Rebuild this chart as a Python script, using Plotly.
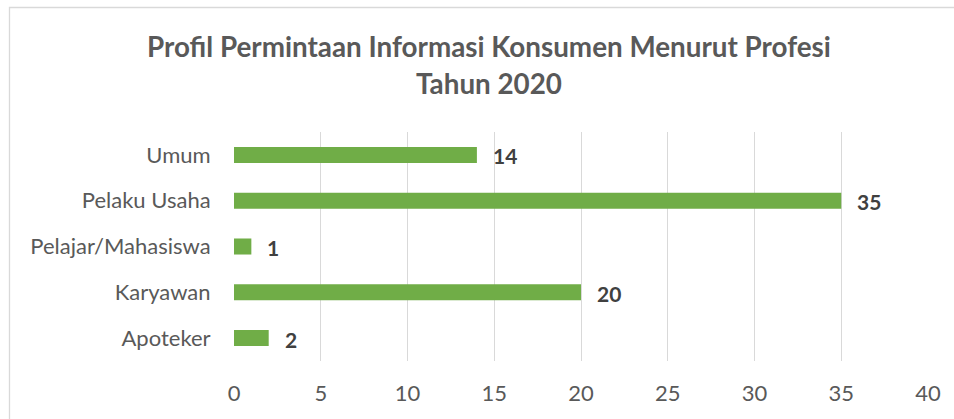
import plotly.graph_objects as go

categories = ["Apoteker", "Karyawan", "Pelajar/Mahasiswa", "Pelaku Usaha", "Umum"]
values = [2, 20, 1, 35, 14]
x_ticks = [0, 5, 10, 15, 20, 25, 30, 35, 40]
title_lines = ["Profil Permintaan Informasi Konsumen Menurut Profesi", "Tahun 2020"]

W, H = 954, 419
L, R, T, B = 234, 26, 132, 58
pw, ph = W - L - R, H - T - B

FONT = "Lato"

fig = go.Figure()
fig.add_trace(go.Bar(
    x=values, y=categories, orientation="h",
    marker=dict(color="#70AD47", line=dict(width=0)),
    hoverinfo="skip",
))

fig.update_layout(
    width=W, height=H,
    margin=dict(l=L, r=R, t=T, b=B, autoexpand=False),
    paper_bgcolor="white", plot_bgcolor="white",
    bargap=0.65,
    showlegend=False,
    font=dict(family=FONT, color="#595959", size=22),
)
fig.update_xaxes(
    range=[0, 40], tickvals=x_ticks, showgrid=True, gridcolor="#D9D9D9", gridwidth=1.3,
    zeroline=False, showline=False, ticks="outside", ticklen=13, tickcolor="rgba(0,0,0,0)",
    tickfont=dict(family=FONT, size=22, color="#595959"),
)
fig.update_yaxes(
    categoryorder="array", categoryarray=categories,
    showgrid=False, zeroline=False, showline=False,
    ticks="outside", ticklen=18, tickcolor="rgba(0,0,0,0)",
    tickfont=dict(family=FONT, size=22, color="#595959"),
)

for c, v in zip(categories, values):
    fig.add_annotation(x=v, y=c, text=f"<b>{v}</b>", showarrow=False,
                       xanchor="left", xshift=14, yshift=-1,
                       font=dict(family=FONT, size=21, color="#404040"))

def px_x(p):
    return (p - L) / pw

def px_y(p):
    return (H - B - p) / ph

fig.add_annotation(x=px_x(489), y=px_y(47), xref="paper", yref="paper",
                   text=f"<b>{title_lines[0]}</b>", showarrow=False,
                   xanchor="center", yanchor="middle",
                   font=dict(family=FONT, size=27.8, color="#595959"))
fig.add_annotation(x=px_x(489), y=px_y(83), xref="paper", yref="paper",
                   text=f"<b>{title_lines[1]}</b>", showarrow=False,
                   xanchor="center", yanchor="middle",
                   font=dict(family=FONT, size=27.8, color="#595959"))

fig.add_shape(type="rect", xref="paper", yref="paper",
              x0=px_x(9.5), x1=px_x(965), y0=px_y(430), y1=px_y(7.5),
              line=dict(color="#D9D9D9", width=1.3), fillcolor="rgba(0,0,0,0)", layer="below")

fig.write_html("out.html", config={"displayModeBar": False},
               post_script="document.body.style.margin='0px';document.body.style.overflow='hidden';")
